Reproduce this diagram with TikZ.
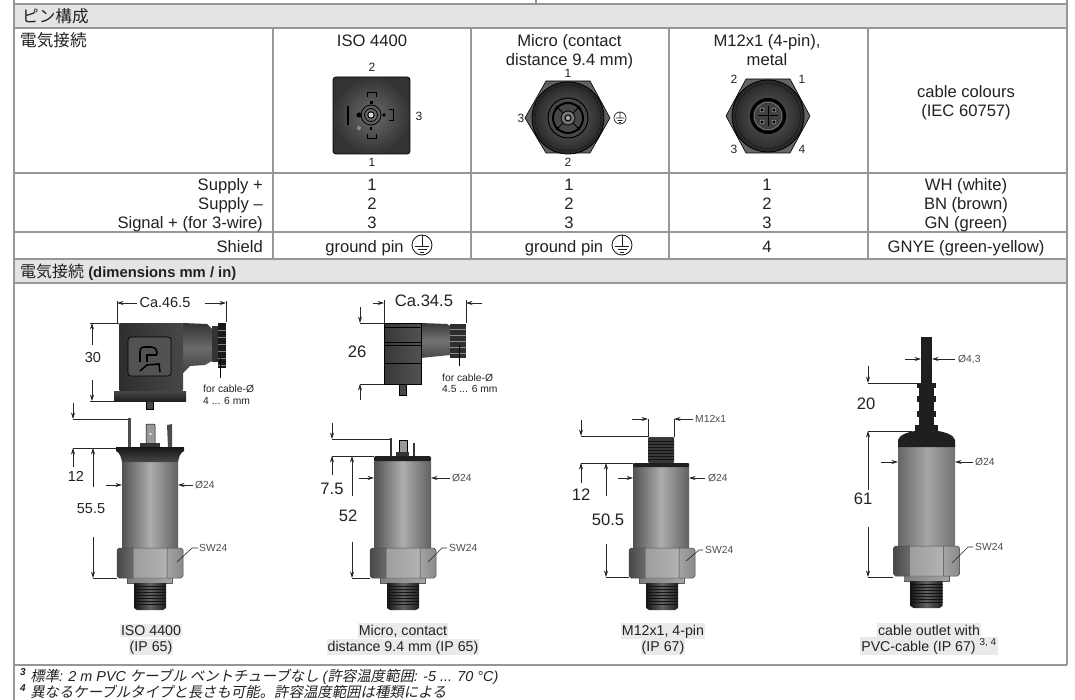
\documentclass[tikz,border=0pt]{standalone}
\usepackage{fontspec}
\setmainfont{Liberation Sans}
\newfontfamily\cjkfont{Noto Sans CJK JP}
\newfontfamily\cjkslant[FakeSlant=0.2]{Noto Sans CJK JP}
\usetikzlibrary{arrows.meta}
\definecolor{gridcol}{HTML}{979797}
\definecolor{headcol}{HTML}{E4E4E4}
\definecolor{markcol}{HTML}{EAEAEA}
\definecolor{inktext}{HTML}{222222}
\tikzset{
  gridline/.style = {draw = gridcol, line width = 2.7pt},
  cell/.style = {font = \fontsize{16.6}{19}\selectfont, text = inktext, inner sep = 0pt},
  pinno/.style = {font = \fontsize{12}{13}\selectfont, text = inktext, inner sep = 0pt},
  dimno/.style = {font = \fontsize{16.6}{19}\selectfont, text = inktext, inner sep = 0pt},
  dimsmall/.style = {font = \fontsize{14.5}{17}\selectfont, text = inktext, inner sep = 0pt},
  tinylabel/.style = {font = \fontsize{10.3}{12}\selectfont, text = black!70, inner sep = 0pt, anchor = base west},
  cablelabel/.style = {font = \fontsize{10.3}{12}\selectfont, text = inktext, inner sep = 0pt, anchor = base west},
  caption/.style = {font = \fontsize{14.2}{16}\selectfont, text = inktext, fill = markcol, inner xsep = 1pt, inner ysep = 1.5pt, anchor = base},
  dimline/.style = {draw = black!85, line width = 0.6pt},
  dimarrow/.style = {draw = black!85, line width = 0.6pt, -{Stealth[length = 6.5pt, width = 4pt]}},
  steelbody/.style = {left color = black!68, right color = black!62, middle color = black!32},
  groundmark/.pic = {
    \draw[line width = 0.9pt, inktext] (0, 0) circle (10);
    \draw[line width = 1pt, inktext] (0, -10) -- (0, 2) (-7, 2) -- (7, 2) (-4.5, 5) -- (4.5, 5) (-2, 8) -- (2, 8);
  },
  fitting/.pic = {
    \fill[black!65] (-23, 29) rectangle (23, 36);
    \shade[left color = black!50, right color = black!35] (-22, 30) rectangle (22, 34);
    \shade[left color = black!92, right color = black!88, middle color = black!62] (-16, 35) -- (16, 35) -- (16, 60) -- (13, 62) -- (-13, 62) -- (-16, 60) -- cycle;
    \foreach \ty in {38, 41, ..., 58} \draw[black!92, line width = 0.6pt] (-16, \ty) -- (16, \ty);
    \shade[left color = black!72, right color = black!58] (-33, 2) -- (-31, 0) -- (-17, 0) -- (-17, 30) -- (-31, 30) -- (-33, 28) -- cycle;
    \shade[left color = black!38, right color = black!30] (-17, 0) rectangle (17, 30);
    \shade[left color = black!36, right color = black!46] (17, 0) -- (31, 0) -- (33, 2) -- (33, 28) -- (31, 30) -- (17, 30) -- cycle;
    \draw[black!70, line width = 0.5pt] (-33, 2) -- (-31, 0) -- (31, 0) -- (33, 2) -- (33, 28) -- (31, 30) -- (-31, 30) -- (-33, 28) -- cycle (-17, 0) -- (-17, 30) (17, 0) -- (17, 30);
  },
}
\begin{document}
\begin{tikzpicture}[x = 1pt, y = -1pt]
\useasboundingbox (0, 0) rectangle (1075, 700);
\fill[white] (0, 0) rectangle (1075, 700);
\fill[headcol] (14, 4) rectangle (1067, 28);
\fill[headcol] (14, 259) rectangle (1067, 283);
\draw[gridline] (14, 0) -- (14, 700);
\draw[gridline] (1067, 0) -- (1067, 665);
\draw[gridline] (536, 0) -- (536, 4);
\draw[gridline] (14, 4) -- (1067, 4);
\draw[gridline] (14, 28) -- (1067, 28);
\draw[gridline] (14, 173) -- (1067, 173);
\draw[gridline] (14, 232) -- (1067, 232);
\draw[gridline] (14, 259) -- (1067, 259);
\draw[gridline] (14, 283) -- (1067, 283);
\draw[gridline] (14, 665) -- (1067, 665);
\draw[gridline] (273, 28) -- (273, 259);
\draw[gridline] (471, 28) -- (471, 259);
\draw[gridline] (669, 28) -- (669, 259);
\draw[gridline] (868, 28) -- (868, 259);

\node[cell, anchor = base west] (pinhead) at (22, 23) {\cjkfont ピン構成};
\node[cell, anchor = base west] (connhead) at (20, 47) {\cjkfont 電気接続};
\node[cell, anchor = base] (isohead) at (372, 47) {ISO 4400};
\node[cell, anchor = base, align = center] (microhead) at (569.5, 66) {Micro (contact\\distance 9.4 mm)};
\node[cell, anchor = base, align = center] (mhead) at (767, 66) {M12x1 (4-pin),\\metal};
\node[cell, anchor = base, align = center] (cablehead) at (966, 117) {cable colours\\(IEC 60757)};

\node[cell, anchor = base east] (rowa) at (263, 190.5) {Supply +};
\node[cell, anchor = base east] (rowb) at (263, 209.5) {Supply --};
\node[cell, anchor = base east] (rowc) at (263, 228.5) {Signal + (for 3-wire)};
\node[cell, anchor = base east] (rowd) at (263, 252.5) {Shield};
\node[cell, anchor = base] (isoa) at (372, 190.5) {1};
\node[cell, anchor = base] (isob) at (372, 209.5) {2};
\node[cell, anchor = base] (isoc) at (372, 228.5) {3};
\node[cell, anchor = base] (microa) at (569, 190.5) {1};
\node[cell, anchor = base] (microb) at (569, 209.5) {2};
\node[cell, anchor = base] (microc) at (569, 228.5) {3};
\node[cell, anchor = base] (ma) at (767, 190.5) {1};
\node[cell, anchor = base] (mb) at (767, 209.5) {2};
\node[cell, anchor = base] (mc) at (767, 228.5) {3};
\node[cell, anchor = base] (wh) at (966, 190.5) {WH (white)};
\node[cell, anchor = base] (bn) at (966, 209.5) {BN (brown)};
\node[cell, anchor = base] (gn) at (966, 228.5) {GN (green)};
\node[cell, anchor = base] (isod) at (364.5, 252.5) {ground pin};
\node[cell, anchor = base] (microd) at (564, 252.5) {ground pin};
\node[cell, anchor = base] (md) at (767, 252.5) {4};
\node[cell, anchor = base] (gnye) at (966, 252.5) {GNYE (green-yellow)};
\pic at (422, 245) {groundmark};
\pic at (622, 245) {groundmark};
\node[anchor = base west, inner sep = 0pt, text = inktext] (dimhead) at (20, 278) {\fontsize{16}{19}\selectfont\cjkfont 電気接続\fontsize{14.8}{19}\selectfont\rmfamily\bfseries{} (dimensions mm / in)};

\node[pinno] (isopinb) at (372, 67) {2};
\node[pinno] (isopinc) at (419, 116) {3};
\node[pinno] (isopina) at (372, 162) {1};
\draw[rounded corners = 3pt, draw = black, line width = 0.8pt, inner color = black!58, outer color = black!80] (333, 77) rectangle (410, 154);
\draw[black, line width = 0.8pt] (371, 115) circle (10) circle (6.5);
\draw[black, line width = 1pt, fill = black!15] (371, 115) circle (3.2);
\fill[black] (346.5, 106) rectangle (349, 125);
\fill[black] (359, 115) circle (2.5);
\fill[black] (384, 115) circle (1.8);
\draw[white!85!black, line width = 0.5pt, fill = black!70] (359, 128) circle (1.6);
\draw[black, line width = 1pt] (367, 97) -- (367, 93) -- (376, 93) -- (376, 97);
\draw[black, line width = 1pt] (367, 134) -- (367, 139) -- (376, 139) -- (376, 134);
\draw[black, line width = 1pt] (389, 110) -- (393, 110) -- (393, 121) -- (389, 121);
\fill[black] (370, 101) rectangle (373, 104);
\fill[black] (370, 127) rectangle (372, 130);

\node[pinno] (micropina) at (568, 73) {1};
\node[pinno] (micropinb) at (568, 162) {2};
\node[pinno] (micropinc) at (521, 118) {3};
\draw[black, line width = 0.6pt, fill = black!62] (525, 118) -- (546, 81) -- (590, 81) -- (610, 118) -- (590, 153) -- (546, 153) -- cycle;
\draw[black, line width = 0.8pt, inner color = black!60, outer color = black!85] (568, 118) circle (36);
\draw[black!90, line width = 0.5pt] (568, 118) circle (33);
\draw[black, line width = 1pt, fill = black!72] (568, 118) circle (20);
\draw[black, line width = 2pt] (568, 118) circle (15);
\draw[black, line width = 1pt] (556, 106) -- (580, 130) (556, 130) -- (580, 106);
\draw[black, line width = 0.8pt, fill = black!55] (568, 118) circle (7);
\draw[black, line width = 1pt, fill = black!35] (568, 118) circle (3);
\draw[inktext, line width = 0.7pt] (620, 118) circle (6) (620, 112) -- (620, 118) (616, 118) -- (624, 118) (617.5, 120.5) -- (622.5, 120.5) (619, 122.5) -- (621, 122.5);

\node[pinno] (mpinb) at (734, 79) {2};
\node[pinno] (mpina) at (802, 79) {1};
\node[pinno] (mpinc) at (734, 149) {3};
\node[pinno] (mpind) at (802, 149) {4};
\draw[black, line width = 0.6pt, fill = black!60] (726, 116) -- (746, 79) -- (790, 79) -- (810, 116) -- (790, 153) -- (746, 153) -- cycle;
\draw[black, line width = 0.8pt, inner color = black!62, outer color = black!85] (768, 116) circle (36);
\draw[black!90, line width = 0.5pt] (768, 116) circle (32.5);
\fill[black] (768, 116) circle (18);
\draw[black!55, line width = 1pt, fill = black!75] (768, 116) circle (14);
\draw[black, line width = 1pt] (758, 116) -- (778, 116) (768, 106) -- (768, 126);
\foreach \hx/\hy in {762/110, 774/110, 762/122, 774/122} \draw[black!30, line width = 0.5pt, fill = black] (\hx, \hy) circle (2);

\draw[black, line width = 0.5pt, fill = black!72] (146, 398) rectangle (153, 409);
\shade[bottom color = black!88, top color = black!72] (114, 391) rectangle (186, 401);
\shade[top color = black!80, bottom color = black!75, middle color = black!58] (183, 323) -- (207, 324) -- (212, 329) -- (212, 361) -- (205, 365) -- (190, 366) -- (183, 373) -- cycle;
\fill[black!80] (212, 326) rectangle (218, 362);
\fill[black!90] (218, 323) rectangle (226, 368);
\foreach \ty in {330, 337, ..., 365} \draw[black!50, line width = 0.5pt] (218, \ty) -- (226, \ty);
\shade[left color = black!82, right color = black!72, rounded corners = 1pt] (119, 323) -- (183, 323) -- (183, 391) -- (119, 391) -- cycle;
\draw[black, line width = 0.7pt, rounded corners = 3pt, fill = black!68] (128, 337) rectangle (171, 376);
\draw[black, line width = 1.6pt] (140, 362) -- (140, 352) .. controls (140, 346) and (144, 347) .. (150, 347) .. controls (155, 347) and (157, 349) .. (157, 354) (147, 362) -- (147, 355) -- (157, 355) (140, 371) -- (147, 365) -- (159, 364) -- (160, 372);

\node[dimsmall] (isolen) at (165, 303) {Ca.46.5};
\node[dimsmall] (isoheight) at (93, 358) {30};
\draw[dimline] (117, 301) -- (117, 323);
\draw[dimline] (226, 301) -- (226, 322);
\draw[dimarrow] (137, 303) -- (117, 303);
\draw[dimarrow] (205, 303) -- (226, 303);
\draw[dimline] (90, 323) -- (119, 323);
\draw[dimline] (90, 401) -- (114, 401);
\draw[dimarrow] (92, 345) -- (92, 323);
\draw[dimarrow] (92, 380) -- (92, 401);
\draw[black, line width = 0.8pt] (220, 357) -- (220, 378);
\node[cablelabel] (isocablea) at (203, 392) {for cable-Ø};
\node[cablelabel] (isocableb) at (203, 404) {4 ... 6 mm};

\fill[black!70] (128, 418) rectangle (131, 447);
\fill[black!70] (167, 425) -- (172, 424) -- (172, 447) -- (168, 447) -- cycle;
\fill[black!40, rounded corners = 1pt] (146, 424) rectangle (155, 447);
\draw[black, line width = 0.5pt, rounded corners = 1pt] (146, 424) rectangle (155, 444);
\fill[white] (150.5, 434) circle (1.2);
\fill[black!80] (140, 443) rectangle (160, 448);
\shade[steelbody] (122, 460) rectangle (178, 548);
\shade[top color = black!92, bottom color = black!72] (116, 447) -- (184, 447) -- (184, 451) .. controls (180, 453) and (179, 457) .. (178, 462) -- (122, 462) .. controls (121, 457) and (120, 453) .. (116, 451) -- cycle;
\pic at (150, 548) {fitting};
\draw[dimarrow] (73, 403) -- (73, 419);
\draw[dimline] (73, 419) -- (128, 419);
\draw[dimline] (73, 448) -- (116, 448);
\draw[dimarrow] (73, 467) -- (73, 448);
\node[dimsmall] (isotop) at (76, 476) {12};
\draw[dimarrow] (93, 487) -- (93, 448);
\node[dimsmall] (isolong) at (91, 509) {55.5};
\draw[dimarrow] (93, 537) -- (93, 578);
\draw[dimline] (93, 578) -- (117, 578);
\draw[dimarrow] (106, 485) -- (122, 485);
\draw[dimarrow] (193, 485) -- (178, 485);
\node[tinylabel] (isodia) at (195, 488.5) {Ø24};
\node[tinylabel] (isosw) at (199, 551.5) {SW24};
\draw[dimline] (198, 548) -- (192, 548) -- (177, 562);
\node[caption] (isocapa) at (151, 635) {ISO 4400};
\node[caption] (isocapb) at (151, 651) {(IP 65)};

\draw[black, line width = 0.5pt, fill = black!72] (399, 380) rectangle (406, 395);
\shade[top color = black!78, bottom color = black!72, middle color = black!55] (421, 323) -- (447, 324) -- (450, 326) -- (450, 355) -- (430, 357) -- (421, 358) -- cycle;
\fill[black!82] (450, 324) rectangle (466, 358);
\foreach \ty in {329, 335, ..., 356} \draw[black!45, line width = 0.5pt] (450, \ty) -- (466, \ty);
\shade[left color = black!78, right color = black!68] (384, 323) rectangle (421, 384);
\draw[black, line width = 0.6pt] (384, 323) rectangle (421, 384) (384, 327) -- (421, 327) (384, 342) -- (421, 342) (384, 345) -- (421, 345) (384, 363) -- (421, 363);

\node[dimno] (microlen) at (424, 300.5) {Ca.34.5};
\node[dimno] (microheight) at (357, 352) {26};
\draw[dimline] (384, 300) -- (384, 323);
\draw[dimline] (466, 300) -- (466, 323);
\draw[dimarrow] (373, 303) -- (384, 303);
\draw[dimarrow] (482, 303) -- (466, 303);
\draw[dimarrow] (360, 307) -- (360, 323);
\draw[dimline] (360, 323) -- (384, 323);
\draw[dimline] (360, 384) -- (384, 384);
\draw[dimarrow] (360, 400) -- (360, 384);
\draw[black, line width = 0.8pt] (459, 345) -- (459, 366);
\node[cablelabel] (microcablea) at (442, 381) {for cable-Ø};
\node[cablelabel] (microcableb) at (442, 392) {4.5 ... 6 mm};

\fill[black!80] (390, 438) rectangle (392, 456);
\fill[black!80] (413, 443) rectangle (415, 456);
\fill[black!40] (399, 440) rectangle (407, 453);
\draw[black, line width = 0.5pt] (399, 440) rectangle (407, 453);
\fill[black!80] (396, 452) rectangle (409, 456);
\shade[steelbody] (374, 459) rectangle (431, 548);
\fill[black!88, rounded corners = 2pt] (374, 456) rectangle (431, 461);
\pic at (403, 548) {fitting};
\draw[dimarrow] (332, 423) -- (332, 439);
\draw[dimline] (332, 439) -- (390, 439);
\draw[dimline] (332, 456) -- (374, 456);
\draw[dimarrow] (332, 475) -- (332, 456);
\node[dimno] (microtop) at (332, 489) {7.5};
\draw[dimarrow] (352, 496) -- (352, 456);
\node[dimno] (microlong) at (348, 516) {52};
\draw[dimarrow] (352, 542) -- (352, 578);
\draw[dimline] (352, 578) -- (370, 578);
\draw[dimarrow] (359, 478) -- (374, 478);
\draw[dimarrow] (450, 478) -- (431, 478);
\node[tinylabel] (microdia) at (452, 481.5) {Ø24};
\node[tinylabel] (microsw) at (449, 551.5) {SW24};
\draw[dimline] (447, 548) -- (442, 548) -- (428, 562);
\node[caption] (microcapa) at (403, 635) {Micro, contact};
\node[caption] (microcapb) at (403, 651) {distance 9.4 mm (IP 65)};

\fill[black!78, rounded corners = 1pt] (648, 437) rectangle (674, 463);
\foreach \ty in {441, 444, ..., 459} \draw[black!92, line width = 0.6pt] (648, \ty) -- (674, \ty);
\shade[steelbody] (633, 466) rectangle (689, 548);
\fill[black!88, rounded corners = 1pt] (633, 463) rectangle (689, 467);
\pic at (662, 548) {fitting};
\draw[dimline] (648, 419) -- (648, 437);
\draw[dimline] (674, 419) -- (674, 437);
\draw[dimarrow] (632, 419) -- (648, 419);
\draw[dimarrow] (693, 419) -- (674, 419);
\node[tinylabel] (mthread) at (695, 422.5) {M12x1};
\draw[dimarrow] (581, 420) -- (581, 436);
\draw[dimline] (581, 436) -- (648, 436);
\draw[dimline] (581, 463) -- (633, 463);
\draw[dimarrow] (581, 483) -- (581, 463);
\node[dimno] (mtop) at (581, 495) {12};
\draw[dimarrow] (606, 496) -- (606, 463);
\node[dimno] (mlong) at (608, 520) {50.5};
\draw[dimarrow] (606, 544) -- (606, 577);
\draw[dimline] (606, 577) -- (629, 577);
\draw[dimarrow] (618, 478) -- (633, 478);
\draw[dimarrow] (705, 478) -- (689, 478);
\node[tinylabel] (mdia) at (708, 481.5) {Ø24};
\node[tinylabel] (msw) at (705, 553.5) {SW24};
\draw[dimline] (703, 550) -- (699, 550) -- (686, 561);
\node[caption] (mcapa) at (663, 635) {M12x1, 4-pin};
\node[caption] (mcapb) at (663, 651) {(IP 67)};

\fill[black!88] (921, 337) rectangle (932, 385);
\fill[black!88] (917, 383) rectangle (936, 388);
\fill[black!88] (919, 387) rectangle (934, 396);
\fill[black!88] (917, 396) rectangle (936, 402);
\fill[black!88] (919, 402) rectangle (934, 411);
\fill[black!88] (917, 411) rectangle (936, 417);
\fill[black!88] (919, 417) rectangle (934, 426);
\fill[black!88] (915, 425) rectangle (938, 432);
\shade[left color = black!60, right color = black!55, middle color = black!35] (898, 445) rectangle (955, 545);
\fill[black!88] (898, 447) -- (898, 440) .. controls (899, 435) and (908, 432) .. (915, 431) -- (938, 431) .. controls (945, 432) and (954, 435) .. (955, 440) -- (955, 447) -- cycle;
\pic at (926.5, 546) {fitting};
\draw[dimarrow] (905, 359) -- (921, 359);
\draw[dimarrow] (955, 359) -- (932, 359);
\node[tinylabel] (cabledia) at (958, 362.5) {Ø4,3};
\draw[dimarrow] (868, 366) -- (868, 383);
\draw[dimline] (868, 383) -- (917, 383);
\node[dimno] (cabletop) at (866, 404) {20};
\draw[dimline] (868, 431) -- (912, 431);
\draw[dimarrow] (868, 490) -- (868, 431);
\node[dimno] (cablelong) at (863, 499) {61};
\draw[dimarrow] (868, 527) -- (868, 577);
\draw[dimline] (868, 577) -- (893, 577);
\draw[dimarrow] (881, 462) -- (898, 462);
\draw[dimarrow] (973, 462) -- (955, 462);
\node[tinylabel] (bodydia) at (975, 465.5) {Ø24};
\node[tinylabel] (bodysw) at (975, 550.5) {SW24};
\draw[dimline] (973, 547) -- (968, 547) -- (952, 563);
\node[caption] (cablecapa) at (929, 635) {cable outlet with};
\node[caption] (cablecapb) at (929, 651) {PVC-cable (IP 67) \textsuperscript{3, 4}};

\node[anchor = base west, inner sep = 0pt, text = inktext, font = \fontsize{14.4}{16}\selectfont\itshape] (notea) at (20, 681) {\textsuperscript{\bfseries 3} {\cjkslant 標準}: 2 m PVC {\cjkslant ケーブル ベントチューブなし} ({\cjkslant 許容温度範囲}: -5 ... 70 °C)};
\node[anchor = base west, inner sep = 0pt, text = inktext, font = \fontsize{14.4}{16}\selectfont\itshape] (noteb) at (20, 697) {\textsuperscript{\bfseries 4} {\cjkslant 異なるケーブルタイプと長さも可能。許容温度範囲は種類による}};
\end{tikzpicture}
\end{document}
